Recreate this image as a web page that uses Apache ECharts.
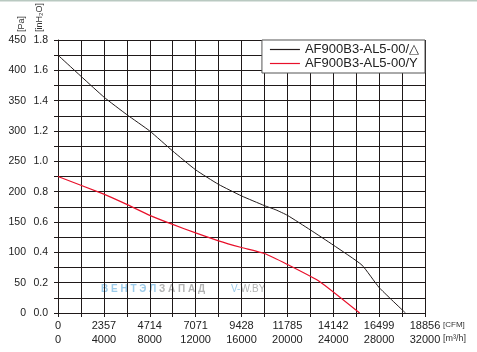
<!DOCTYPE html>
<html>
<head>
<meta charset="utf-8">
<script src="https://cdn.jsdelivr.net/npm/echarts@6/dist/echarts.min.js"></script>
<style>
  html, body { margin: 0; padding: 0; background: #fff; }
  #chart { width: 477px; height: 352px; }
</style>
</head>
<body>
<div id="chart"></div>
<script>
/* axis tick labels */
let cfmLabels = ["0", "2357", "4714", "7071", "9428", "11785", "14142", "16499", "18856"];
let inH2OLabels = ["0.0", "0.2", "0.4", "0.6", "0.8", "1.0", "1.2", "1.4", "1.6", "1.8"];

/* curves: airflow [m3/h], pressure [Pa] */
let deltaFlow = [0, 4000, 6000, 8000, 10000, 12000, 14000, 16000, 18000, 19000, 20000, 22000, 24000, 26500, 28000, 30300];
let deltaPress = [425, 356, 327, 300, 267, 236, 212, 193, 177, 170, 161, 137, 112, 79, 42, 0];

let starFlow = [0, 4000, 6000, 8000, 10000, 12000, 14000, 16000, 18000, 20000, 22800, 26300];
let starPress = [225, 196, 179, 161, 146, 132, 119, 108, 98, 80, 52, 0];

let seriesNames = ["AF900B3-AL5-00/△", "AF900B3-AL5-00/Y"];

let LINE = "#1f1919";
let FONT = "'Liberation Sans', Arial, Helvetica, sans-serif";
let BLUE = "#9ccbea";
let GREY = "#b3b3b3";

function pairs(xs, ys) {
  return xs.map((x, i) => [x, ys[i]]);
}

let chart = echarts.init(document.getElementById("chart"), null, { renderer: "canvas" });

chart.setOption({
  animation: false,
  textStyle: { fontFamily: FONT },
  grid: { left: 58, right: 52, top: 40, bottom: 39 },
  legend: {
    right: 52,
    top: 40,
    orient: "vertical",
    backgroundColor: "#fff",
    borderColor: "#555",
    borderWidth: 1,
    borderRadius: 0,
    padding: [3, 6, 3, 8],
    itemGap: 1,
    itemWidth: 30,
    itemHeight: 1.2,
    textStyle: { color: "#222", fontSize: 13, fontFamily: FONT },
    data: seriesNames.map((n) => ({ name: n, icon: "rect" })),
  },
  xAxis: {
    type: "value",
    min: 0,
    max: 32000,
    interval: 2000,
    axisLine: { lineStyle: { color: LINE, width: 1 } },
    axisTick: { show: true, length: 4, lineStyle: { color: LINE } },
    splitLine: { show: true, lineStyle: { color: LINE, width: 1 } },
    axisLabel: {
      color: "#222",
      fontSize: 11,
      lineHeight: 14,
      margin: 6,
      formatter: (v) => (v % 4000 === 0 ? cfmLabels[v / 4000] + "\n" + v : ""),
    },
  },
  yAxis: [
    {
      type: "value",
      min: 0,
      max: 450,
      interval: 25,
      axisLine: { show: true, lineStyle: { color: LINE, width: 1 } },
      axisTick: { show: true, length: 4, lineStyle: { color: LINE } },
      splitLine: { show: true, lineStyle: { color: LINE, width: 1 } },
      axisLabel: {
        color: "#222",
        fontSize: 10.5,
        margin: 32,
        formatter: (v) => (v % 50 === 0 ? String(v) : ""),
      },
    },
    {
      type: "value",
      position: "left",
      min: 0,
      max: 450,
      interval: 25,
      axisLine: { show: false },
      axisTick: { show: false },
      splitLine: { show: false },
      axisLabel: {
        color: "#222",
        fontSize: 10.5,
        margin: 10,
        formatter: (v) => (v % 50 === 0 ? inH2OLabels[v / 50] : ""),
      },
    },
  ],
  graphic: [
    { type: "rect", shape: { x: 0, y: 0, width: 477, height: 1.5 }, style: { fill: "#b9c9c1" } },
    {
      type: "text", x: 22, y: 32, rotation: Math.PI / 2,
      style: { text: "[Pa]", fontSize: 9, fontFamily: FONT, fill: "#333", textAlign: "left", textVerticalAlign: "middle" },
    },
    {
      type: "text", x: 40, y: 32, rotation: Math.PI / 2,
      style: { text: "[inH₂O]", fontSize: 9, fontFamily: FONT, fill: "#333", textAlign: "left", textVerticalAlign: "middle" },
    },
    {
      type: "text", x: 443, y: 325,
      style: { text: "[CFM]", fontSize: 8, fontFamily: FONT, fill: "#333", textAlign: "left", textVerticalAlign: "middle" },
    },
    {
      type: "text", x: 443, y: 339,
      style: { text: "[m³/h]", fontSize: 9, fontFamily: FONT, fill: "#333", textAlign: "left", textVerticalAlign: "middle" },
    },
    {
      type: "text", x: 101, y: 289,
      style: {
        text: "{b|В Е Н Т Э Л }{g|З А П А Д}",
        textVerticalAlign: "middle",
        rich: {
          b: { fontSize: 10, fontWeight: "bold", fontFamily: FONT, fill: BLUE },
          g: { fontSize: 10, fontWeight: "bold", fontFamily: FONT, fill: GREY },
        },
      },
    },
    {
      type: "text", x: 231, y: 289,
      style: {
        text: "{b|V-}{g|W.BY}",
        textVerticalAlign: "middle",
        rich: {
          b: { fontSize: 10, fontFamily: FONT, fill: BLUE },
          g: { fontSize: 10, fontFamily: FONT, fill: GREY },
        },
      },
    },
  ],
  series: [
    {
      name: seriesNames[0],
      type: "line",
      symbol: "none",
      smooth: 0.15,
      lineStyle: { color: "#231c1c", width: 1 },
      itemStyle: { color: "#231c1c" },
      data: pairs(deltaFlow, deltaPress),
    },
    {
      name: seriesNames[1],
      type: "line",
      symbol: "none",
      smooth: 0.15,
      lineStyle: { color: "#e8102a", width: 1.2 },
      itemStyle: { color: "#e8102a" },
      data: pairs(starFlow, starPress),
    },
  ],
});
</script>
</body>
</html>
